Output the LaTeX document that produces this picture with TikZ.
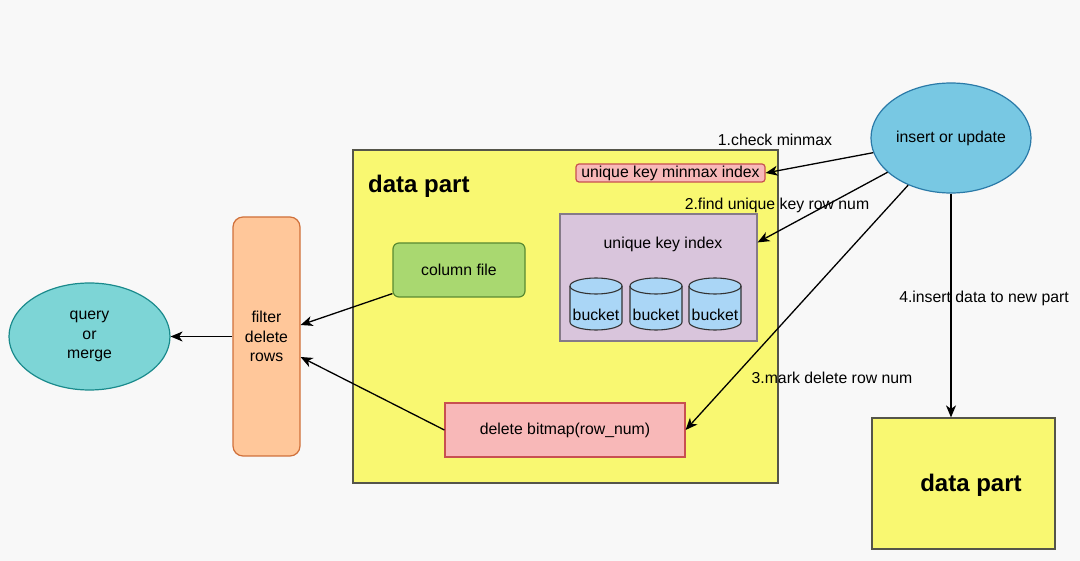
\documentclass[tikz,border=0pt]{standalone}
\usepackage{fontspec}
\setmainfont{Liberation Sans}
\usetikzlibrary{arrows.meta,shapes.geometric}
\definecolor{bgc}{HTML}{F8F8F8}
\definecolor{yel}{HTML}{F9F871}
\definecolor{yelb}{HTML}{55554A}
\definecolor{pinkf}{HTML}{F8B8B8}
\definecolor{pinkb}{HTML}{C85050}
\definecolor{purf}{HTML}{D9C5DC}
\definecolor{purb}{HTML}{857A88}
\definecolor{cylf}{HTML}{AAD6F6}
\definecolor{greenf}{HTML}{A9D870}
\definecolor{greenb}{HTML}{5A8A32}
\definecolor{orf}{HTML}{FFC79A}
\definecolor{orb}{HTML}{D0703A}
\definecolor{qf}{HTML}{7DD5D6}
\definecolor{qb}{HTML}{1A8A8C}
\definecolor{insf}{HTML}{78C8E3}
\definecolor{insb}{HTML}{2A7AA8}
\tikzset{
  txt/.style={font=\fontsize{15.8}{19.5}\selectfont, text=black},
  big/.style={font=\fontsize{24}{28}\selectfont\bfseries, text=black},
  boxs/.style={draw, line width=1.2pt, inner sep=0pt, txt},
  arr/.style={draw=black, line width=1.3pt, -{Stealth[length=12pt,width=10pt,inset=3.5pt]}},
  lbl/.style={txt, inner sep=0pt}
}
\begin{document}
\begin{tikzpicture}[x=1pt,y=-1pt]
\useasboundingbox (0,0) rectangle (1080,561);
\fill[bgc] (0,0) rectangle (1080,561);

% big data part
\node[boxs, draw=yelb, fill=yel, minimum width=425pt, minimum height=333pt] (dp1) at (565.5,316.5) {};
\node[big, anchor=west, inner sep=0pt] (dp1t) at (368,186) {data part};

% minmax index
\node[boxs, draw=pinkb, fill=pinkf, rounded corners=3pt, minimum width=189pt, minimum height=18pt] (mm) at (670.5,173) {unique key minmax index};

% unique key index
\node[boxs, draw=purb, fill=purf, minimum width=197pt, minimum height=127pt] (uki) at (658.5,277.5) {};
\node[lbl] (ukit) at (663,244) {unique key index};

% buckets
\foreach \cx/\nm in {596/b1,656/b2,715/b3}{
  \filldraw[fill=cylf, draw=black!80, line width=1.1pt]
    (\cx-26,286) -- (\cx-26,322) arc[start angle=180,end angle=0,x radius=26,y radius=8]
    -- (\cx+26,286) arc[start angle=0,end angle=-180,x radius=26,y radius=8] -- cycle;
  \draw[black!80, line width=1.1pt] (\cx-26,286) arc[start angle=180,end angle=0,x radius=26,y radius=8];
  \node[lbl] (\nm) at (\cx,315) {bucket};
}

% column file
\node[boxs, draw=greenb, fill=greenf, rounded corners=6pt, minimum width=132pt, minimum height=54pt] (cf) at (459,270) {column file};

% delete bitmap
\node[boxs, draw=pinkb, fill=pinkf, minimum width=240pt, minimum height=54pt] (db) at (565,430) {delete bitmap(row\_num)};

% filter delete rows
\node[boxs, draw=orb, fill=orf, rounded corners=10pt, minimum width=67pt, minimum height=239pt, align=center] (flt) at (266.5,336.5) {filter\\delete\\rows};

% query or merge
\node[boxs, ellipse, draw=qb, fill=qf, minimum width=161pt, minimum height=107pt, align=center] (qm) at (89.5,336.5) {query\\or\\merge};

% insert or update
\node[boxs, ellipse, draw=insb, fill=insf, minimum width=160pt, minimum height=110pt] (ins) at (951,138) {insert or update};

% second data part
\node[boxs, draw=yelb, fill=yel, minimum width=183pt, minimum height=131pt] (dp2) at (963.5,483.5) {};
\node[big, inner sep=0pt] (dp2t) at (971,485) {data part};

% connectors
\draw[arr] (ins) -- (mm.east);
\draw[arr] (ins) -- ([yshift=-29pt]uki.north east);
\draw[arr] (ins) -- (db.east);
\draw[arr] (ins.south) -- (ins.south |- dp2.north);
\draw[arr] ([yshift=4pt]cf.south west) -- ([yshift=11.5pt]flt.east);
\draw[arr] (db.west) -- ([yshift=-20.5pt]flt.east);
\draw[arr] (flt.west) -- (qm.east);

% labels
\node[lbl] (l1) at (775,140) {1.check minmax};
\node[lbl] (l2) at (777,205) {2.find unique key row num};
\node[lbl] (l3) at (832,378) {3.mark delete row num};
\node[lbl] (l4) at (984,298) {4.insert data to new part};
\end{tikzpicture}
\end{document}
